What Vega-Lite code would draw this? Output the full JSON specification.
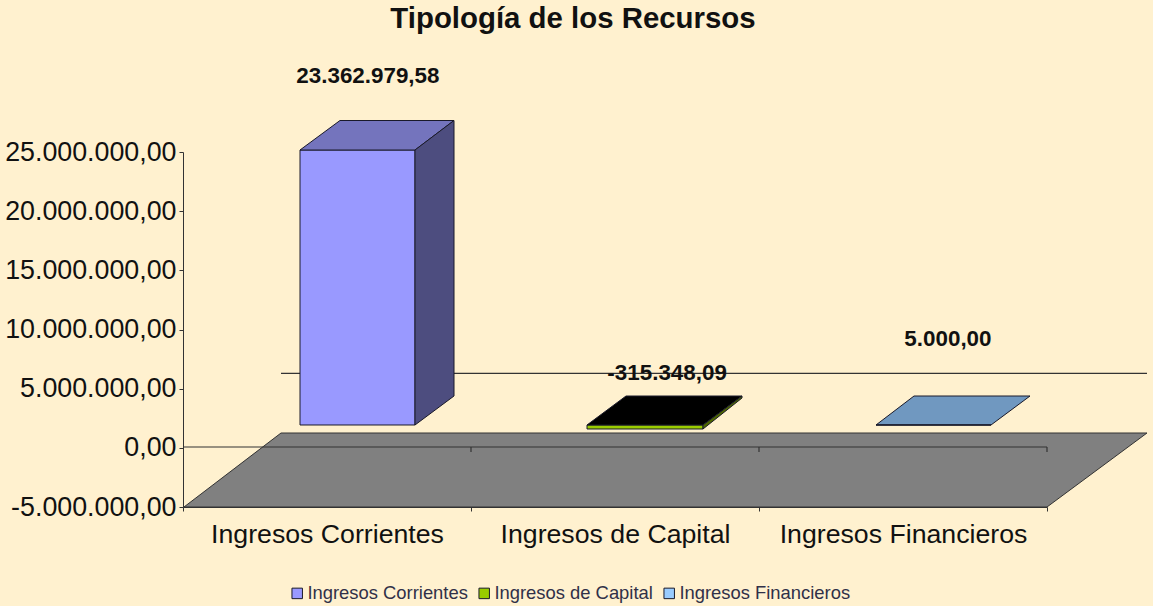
{
"$schema":"https://vega.github.io/schema/vega-lite/v6.json",
"width":864,"height":355,
"autosize":{"type":"none"},
"padding":{"left":183,"top":152,"right":106,"bottom":99},
"background":"#FFF1CF",
"config":{"view":{"stroke":null},"locale":{"number":{"decimal":",","thousands":".","grouping":[3],"currency":["","€"],"minus":"-"}}},
"title":{"text":"Tipología de los Recursos","font":"Liberation Sans","fontSize":29.4,"fontWeight":"bold","color":"#111111","anchor":"middle","frame":"group","dx":-42,"offset":31},
"datasets":{
"faces":[
{"part":"Suelo","x":0.0035,"top":-5000000,"bottom":-5000000},
{"part":"Suelo","x":0.3403,"top":1253500,"bottom":-5000000},
{"part":"Suelo","x":3.0,"top":1253500,"bottom":-5000000},
{"part":"Suelo","x":3.3472,"top":1253500,"bottom":1253500},
{"part":"Ingresos Corrientes","x":0.4063,"top":25169000,"bottom":1930000},
{"part":"Ingresos Corrientes","x":0.8056,"top":25169000,"bottom":1930000},
{"part":"Corrientes superior","x":0.4063,"top":25169000,"bottom":25169000},
{"part":"Corrientes superior","x":0.5451,"top":27662000,"bottom":25169000},
{"part":"Corrientes superior","x":0.8056,"top":27662000,"bottom":25169000},
{"part":"Corrientes superior","x":0.941,"top":27662000,"bottom":27662000},
{"part":"Corrientes lateral","x":0.8056,"top":25169000,"bottom":1930000},
{"part":"Corrientes lateral","x":0.941,"top":27662000,"bottom":4380000},
{"part":"Ingresos de Capital","x":1.4028,"top":1930000,"bottom":1592000},
{"part":"Ingresos de Capital","x":1.8056,"top":1930000,"bottom":1592000},
{"part":"Capital superior","x":1.4028,"top":1930000,"bottom":1930000},
{"part":"Capital superior","x":1.5382,"top":4380000,"bottom":1930000},
{"part":"Capital superior","x":1.8056,"top":4380000,"bottom":1930000},
{"part":"Capital superior","x":1.941,"top":4380000,"bottom":4380000},
{"part":"Capital lateral","x":1.8056,"top":1930000,"bottom":1592000},
{"part":"Capital lateral","x":1.941,"top":4380000,"bottom":4211000},
{"part":"Financieros superior","x":2.4063,"top":1930000,"bottom":1930000},
{"part":"Financieros superior","x":2.5382,"top":4380000,"bottom":1930000},
{"part":"Financieros superior","x":2.8056,"top":4380000,"bottom":1930000},
{"part":"Financieros superior","x":2.941,"top":4380000,"bottom":4380000},
{"part":"Ingresos Financieros","x":2.4063,"top":1930000,"bottom":1930000},
{"part":"Ingresos Financieros","x":2.8056,"top":1930000,"bottom":1930000}
],
"lines":[
{"x":0.3403,"x2":3.3472,"y":6300000,"y2":6300000},
{"x":0,"x2":3,"y":70000,"y2":70000},
{"x":1,"x2":1,"y":70000,"y2":-350000},
{"x":2,"x2":2,"y":70000,"y2":-350000},
{"x":3,"x2":3,"y":70000,"y2":-350000}
],
"labels":[
{"x":0.642,"y":31420000,"label":"23.362.979,58"},
{"x":1.681,"y":6320000,"label":"-315.348,09"},
{"x":2.656,"y":9197000,"label":"5.000,00"}
]
},
"layer":[
{"data":{"name":"lines"},"transform":[{"filter":"datum.x>5"}],
"mark":{"type":"rule"},
"encoding":{
"x":{"field":"x","type":"quantitative","scale":{"domain":[0,3],"nice":false,"zero":false},
"axis":{"title":null,"grid":false,"values":[0,0.5,1,1.5,2,2.5,3],"labelExpr":"datum.value==0.5?'Ingresos Corrientes':datum.value==1.5?'Ingresos de Capital':datum.value==2.5?'Ingresos Financieros':''","labelFont":"Liberation Sans","labelFontSize":26.7,"labelColor":"#111111","labelPadding":10,"labelAngle":0,"labelOverlap":false,"labelFlush":false,"labelBound":false,"labelLimit":400,"domainColor":"#333333","tickColor":"#333333","tickSize":4,"tickOpacity":{"condition":{"test":"datum.value%1==0","value":1},"value":0}}},
"y":{"field":"y","type":"quantitative","scale":{"domain":[-5000000,25000000],"nice":false,"zero":false},
"axis":{"title":null,"grid":false,"values":[-5000000,0,5000000,10000000,15000000,20000000,25000000],"format":",.2f","labelFont":"Liberation Sans","labelFontSize":26.8,"labelColor":"#111111","labelPadding":3,"labelLimit":300,"domainColor":"#333333","tickColor":"#333333","tickSize":4}}
}},
{"data":{"name":"faces"},"transform":[{"filter":"datum.part=='Suelo'"}],
"mark":{"type":"area","stroke":"#333333","strokeWidth":1,"clip":false},
"encoding":{
"x":{"field":"x","type":"quantitative"},
"y":{"field":"top","type":"quantitative","stack":null},
"y2":{"field":"bottom"},
"fill":{"field":"part","type":"nominal","scale":{"domain":["Ingresos Corrientes","Ingresos de Capital","Ingresos Financieros","Suelo","Corrientes superior","Corrientes lateral","Capital superior","Capital lateral","Financieros superior"],"range":["#9999FF","#99CC00","#99CCFF","#808080","#7474BD","#4D4D7F","#000000","#4D6600","#7098C0"]},
"legend":{"values":["Ingresos Corrientes","Ingresos de Capital","Ingresos Financieros"],"title":null,"orient":"none","legendX":105,"legendY":432,"direction":"horizontal","columns":3,"symbolType":"square","symbolSize":110,"symbolStrokeColor":"#111111","symbolStrokeWidth":1,"symbolOpacity":1,"labelFont":"Liberation Sans","labelFontSize":18.4,"labelColor":"#303048","labelOffset":1,"columnPadding":7,"labelLimit":300}}
}},
{"data":{"name":"lines"},
"mark":{"type":"rule","color":"#333333","strokeWidth":1.2},
"encoding":{
"x":{"field":"x","type":"quantitative"},
"x2":{"field":"x2"},
"y":{"field":"y","type":"quantitative"},
"y2":{"field":"y2"}
}},
{"data":{"name":"faces"},"transform":[{"filter":"datum.part!='Suelo'"}],
"mark":{"type":"area","stroke":"#1a1a2a","strokeWidth":1,"clip":false},
"encoding":{
"x":{"field":"x","type":"quantitative"},
"y":{"field":"top","type":"quantitative","stack":null},
"y2":{"field":"bottom"},
"fill":{"field":"part","type":"nominal"}
}},
{"data":{"name":"labels"},
"mark":{"type":"text","font":"Liberation Sans","fontSize":22.4,"fontWeight":"bold","color":"#111111","align":"center","baseline":"middle"},
"encoding":{
"x":{"field":"x","type":"quantitative"},
"y":{"field":"y","type":"quantitative"},
"text":{"field":"label","type":"nominal"}
}}
]
}
